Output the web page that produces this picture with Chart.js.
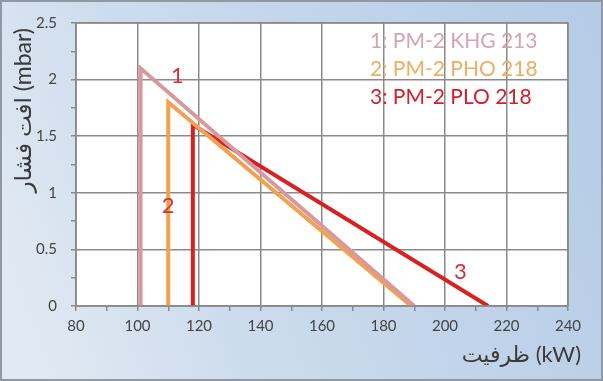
<!DOCTYPE html>
<html><head><meta charset="utf-8">
<script src="https://cdn.jsdelivr.net/npm/chart.js@4"></script>
<style>html,body{margin:0;padding:0;background:#fff}#wrap{width:603px;height:381px}</style>
</head><body><div id="wrap"><canvas id="c" width="603" height="381"></canvas></div>
<script>
// Series data (x = capacity kW, y = pressure drop mbar)
const s1x = [101, 101, 190];
const s1y = [0, 2.1, 0];
const s2x = [110, 110, 189];
const s2y = [0, 1.8, 0];
const s3x = [118, 118, 214];
const s3y = [0, 1.6, 0];
const seriesNames = ['1: PM-2 KHG 213', '2: PM-2 PHO 218', '3: PM-2 PLO 218'];
const curveLabels = ['1', '2', '3'];
const curveLabelX = [113, 110, 205];
const curveLabelY = [2.03, 0.88, 0.30];
const xTicks = [80, 100, 120, 140, 160, 180, 200, 220, 240];
const yTicks = [0, 0.5, 1, 1.5, 2, 2.5];
const xTitle = 'ظرفیت (kW)';
const yTitle = 'افت فشار (mbar)';

const lineColors = ['#d9979e', '#f2a14f', '#d92121'];
const textColors = ['#d6a4ad', '#eeae63', '#d4202c'];
const FONT = 'Lato, "DejaVu Sans", sans-serif';

function pts(xs, ys){ return xs.map((x,i)=>({x:x, y:ys[i]})); }

const bgPlugin = {
  id:'bg',
  beforeDraw(chart){
    const {ctx, chartArea:a, width:w, height:h} = chart;
    ctx.save();
    const g = ctx.createLinearGradient(0,h*0.7,w,h*0.1);
    g.addColorStop(0,'#e1e9f3');
    g.addColorStop(0.3,'#cddced');
    g.addColorStop(1,'#b5cbe6');
    ctx.fillStyle = g;
    ctx.fillRect(0,0,w,h);
    ctx.strokeStyle = '#8e99a4';
    ctx.lineWidth = 2;
    ctx.strokeRect(1,1,w-2,h-2);
    ctx.fillStyle = '#ffffff';
    ctx.fillRect(a.left,a.top,a.right-a.left,a.bottom-a.top);
    ctx.restore();
  },
  afterDatasetsDraw(chart){
    const {ctx, chartArea:a, scales} = chart;
    ctx.save();
    ctx.strokeStyle = '#8a8a8a';
    ctx.lineWidth = 1.5;
    ctx.strokeRect(a.left, a.top, a.right-a.left, a.bottom-a.top);
    // curve number labels
    ctx.font = '22px ' + FONT;
    ctx.fillStyle = '#d1303a';
    ctx.textAlign = 'center';
    ctx.textBaseline = 'middle';
    curveLabels.forEach((t,i)=>{
      ctx.fillText(t, scales.x.getPixelForValue(curveLabelX[i]), scales.y.getPixelForValue(curveLabelY[i]));
    });
    // legend text
    ctx.font = '21px ' + FONT;
    ctx.textAlign = 'left';
    ctx.textBaseline = 'alphabetic';
    const ly = [48, 76, 104];
    seriesNames.forEach((t,i)=>{
      ctx.fillStyle = textColors[i];
      ctx.fillText(t, 370, ly[i]);
    });
    // axis titles
    ctx.fillStyle = '#3a3a3a';
    ctx.font = '22px ' + FONT;
    ctx.textAlign = 'right';
    ctx.textBaseline = 'middle';
    ctx.fillText(xTitle, 581, 355);
    ctx.translate(24, 28);
    ctx.rotate(-Math.PI/2);
    ctx.font = '23px ' + FONT;
    ctx.textAlign = 'right';
    ctx.fillText(yTitle, 0, 0);
    ctx.restore();
  }
};

const ds = [[s1x,s1y],[s2x,s2y],[s3x,s3y]].map((d,i)=>({
  label: seriesNames[i],
  data: pts(d[0], d[1]),
  showLine: true,
  borderColor: lineColors[i],
  backgroundColor: lineColors[i],
  borderWidth: 4,
  pointRadius: 0,
  tension: 0,
  borderJoinStyle: 'miter'
}));

new Chart(document.getElementById('c'), {
  type: 'scatter',
  data: { datasets: ds },
  plugins: [bgPlugin],
  options: {
    responsive: false,
    animation: false,
    layout: { padding: { left: 8, right: 35, top: 23, bottom: 8 } },
    plugins: { legend: { display: false }, tooltip: { enabled: false } },
    scales: {
      x: {
        type: 'linear', min: 80, max: 240,
        afterFit(s){ s.height = 381 - 306 - 8; },
        ticks: {
          stepSize: 10, padding: 6, color: '#444', font: { family: FONT, size: 15 },
          maxRotation: 0, minRotation: 0, autoSkip: false,
          callback: v => xTicks.includes(v) ? String(v) : ''
        },
        grid: {
          color: c => (c.tick && xTicks.includes(c.tick.value)) ? '#8a8a8a' : 'rgba(0,0,0,0)',
          tickColor: '#8a8a8a', lineWidth: 1.5, tickLength: 5, drawTicks: true
        },
        border: { color: '#8a8a8a', width: 1.5 }
      },
      y: {
        type: 'linear', min: 0, max: 2.5,
        afterFit(s){ s.width = 68; },
        ticks: {
          stepSize: 0.25, padding: 14, color: '#444', font: { family: FONT, size: 15 },
          autoSkip: false,
          callback: v => yTicks.includes(v) ? String(v) : ''
        },
        grid: {
          color: c => (c.tick && yTicks.includes(c.tick.value)) ? '#8a8a8a' : 'rgba(0,0,0,0)',
          tickColor: '#8a8a8a', lineWidth: 1.5, tickLength: 5
        },
        border: { color: '#8a8a8a', width: 1.5 }
      }
    }
  }
});
</script></body></html>
